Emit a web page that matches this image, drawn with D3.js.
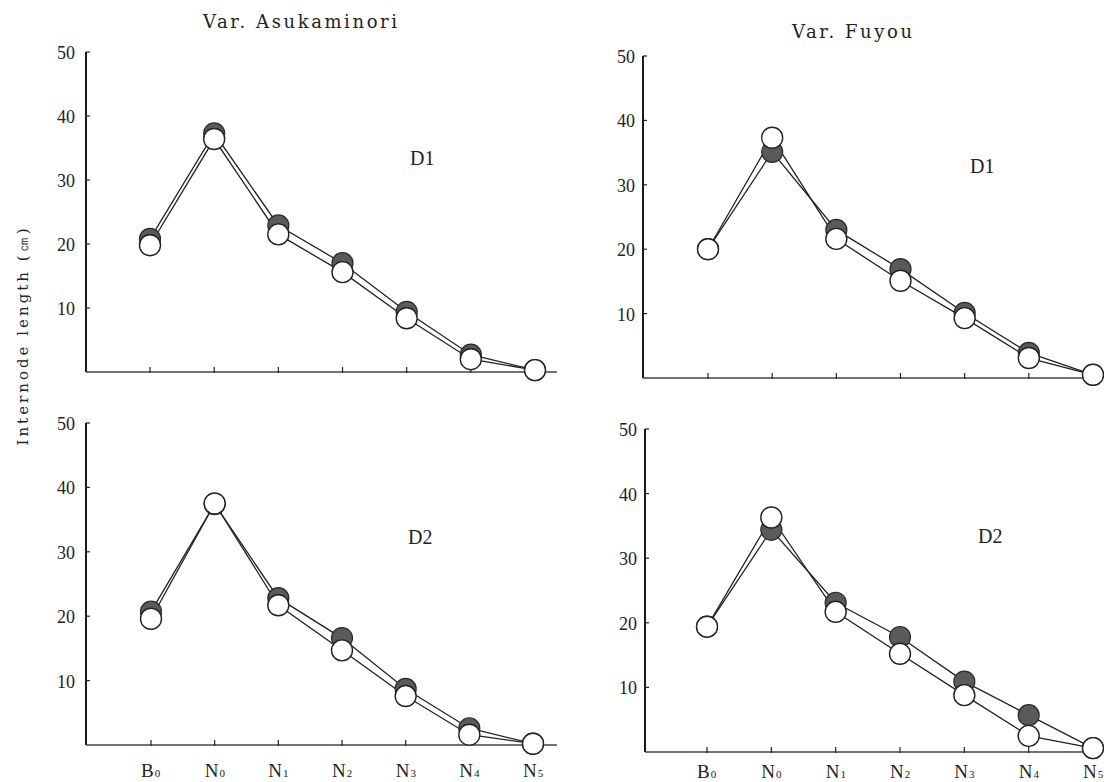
<!DOCTYPE html>
<html>
<head>
<meta charset="utf-8">
<script src="https://cdn.jsdelivr.net/npm/d3@7"></script>
<style>
  body { margin: 0; background: #fff; }
  text { font-family: "Liberation Serif", "DejaVu Serif", serif; fill: #222; }
  .wide { font-family: "DejaVu Serif", serif; }
</style>
</head>
<body>
<div class="chart"></div>
<script>
var width = 1104,
    height = 782;

// internodes along the stem
var nodes = ["B0", "N0", "N1", "N2", "N3", "N4", "N5"];
var y_ticks = [10, 20, 30, 40, 50];

// filled circles (dark) and open circles, per panel
var asuka_d1_filled = [20.8, 37.3, 22.9, 17.0, 9.4, 2.7, 0.3];
var asuka_d1_open   = [19.8, 36.4, 21.5, 15.6, 8.4, 2.0, 0.3];
var fuyou_d1_filled = [20.0, 35.1, 23.0, 16.9, 10.1, 3.9, 0.5];
var fuyou_d1_open   = [20.0, 37.3, 21.6, 15.1, 9.3, 3.1, 0.5];
var asuka_d2_filled = [20.7, 37.4, 22.8, 16.6, 8.7, 2.6, 0.2];
var asuka_d2_open   = [19.6, 37.5, 21.7, 14.7, 7.6, 1.6, 0.2];
var fuyou_d2_filled = [19.4, 34.4, 23.1, 17.8, 10.9, 5.7, 0.6];
var fuyou_d2_open   = [19.4, 36.3, 21.7, 15.2, 8.8, 2.5, 0.6];

var panels = [
    {label: "D1", filled: asuka_d1_filled, open: asuka_d1_open, axis_x: 86, x_first: 150, x_last: 535, y_top: 52, y_base: 372, x_end: 557, tick_gap: 11, lab_x: 410, lab_y: 165, xlab_dy: 32, show_x: false},
    {label: "D1", filled: fuyou_d1_filled, open: fuyou_d1_open, axis_x: 643, x_first: 708, x_last: 1093, y_top: 56, y_base: 378, x_end: 1100, tick_gap: 8, lab_x: 970, lab_y: 173, xlab_dy: 32, show_x: false},
    {label: "D2", filled: asuka_d2_filled, open: asuka_d2_open, axis_x: 86, x_first: 151, x_last: 533, y_top: 423, y_base: 745, x_end: 557, tick_gap: 11, lab_x: 408, lab_y: 544, xlab_dy: 32, show_x: true},
    {label: "D2", filled: fuyou_d2_filled, open: fuyou_d2_open, axis_x: 645, x_first: 707, x_last: 1093, y_top: 429, y_base: 752, x_end: 1100, tick_gap: 8, lab_x: 978, lab_y: 543, xlab_dy: 26, show_x: true}
];

var svg = d3.select(".chart")
    .append("svg")
    .attr("width", width)
    .attr("height", height);

panels.forEach(function(p) {
    var x = d3.scalePoint().domain(nodes).range([p.x_first, p.x_last]);
    var y = d3.scaleLinear().domain([0, 50]).range([p.y_base, p.y_top]);
    var g = svg.append("g");

    // axes lines
    g.append("line")
        .attr("x1", p.axis_x).attr("x2", p.axis_x)
        .attr("y1", y(50)).attr("y2", p.y_base)
        .attr("stroke", "#1a1a1a").attr("stroke-width", 2);
    g.append("line")
        .attr("x1", p.axis_x).attr("x2", p.x_end)
        .attr("y1", p.y_base).attr("y2", p.y_base)
        .attr("stroke", "#444").attr("stroke-width", 1.4);

    // y ticks
    g.selectAll(".ytick")
        .data(y_ticks)
        .enter().append("line")
        .attr("x1", p.axis_x).attr("x2", p.axis_x + 4)
        .attr("y1", function(d) { return y(d); })
        .attr("y2", function(d) { return y(d); })
        .attr("stroke", "#222").attr("stroke-width", 1.2);
    g.selectAll(".ylab")
        .data(y_ticks)
        .enter().append("text")
        .attr("x", p.axis_x - p.tick_gap)
        .attr("y", function(d) { return y(d) + 7; })
        .attr("text-anchor", "end")
        .attr("font-size", 18)
        .text(function(d) { return d; });

    // x ticks, pointing up into the plot
    g.selectAll(".xtick")
        .data(nodes.slice(0, 6))
        .enter().append("line")
        .attr("x1", function(d) { return x(d); })
        .attr("x2", function(d) { return x(d); })
        .attr("y1", p.y_base - 5).attr("y2", p.y_base + 1)
        .attr("stroke", "#222").attr("stroke-width", 1.2);

    if (p.show_x) {
        var xl = g.selectAll(".xlab")
            .data(nodes)
            .enter().append("text")
            .attr("x", function(d) { return x(d) - 10; })
            .attr("y", p.y_base + p.xlab_dy)
            .attr("font-size", 19);
        xl.append("tspan").text(function(d) { return d[0]; });
        xl.append("tspan")
            .attr("font-size", 11)
            .attr("dx", 1)
            .text(function(d) { return d.slice(1); });
    }

    var line = d3.line()
        .x(function(d, i) { return x(nodes[i]); })
        .y(function(d) { return y(d); });

    g.append("path").datum(p.filled)
        .attr("d", line).attr("fill", "none")
        .attr("stroke", "#222").attr("stroke-width", 1.3);
    g.append("path").datum(p.open)
        .attr("d", line).attr("fill", "none")
        .attr("stroke", "#222").attr("stroke-width", 1.3);

    g.selectAll(".dot-filled")
        .data(p.filled)
        .enter().append("circle")
        .attr("cx", function(d, i) { return x(nodes[i]); })
        .attr("cy", function(d) { return y(d); })
        .attr("r", 10.5)
        .attr("fill", "#5a5a5a")
        .attr("stroke", "#2a2a2a").attr("stroke-width", 1.2);
    g.selectAll(".dot-open")
        .data(p.open)
        .enter().append("circle")
        .attr("cx", function(d, i) { return x(nodes[i]); })
        .attr("cy", function(d) { return y(d); })
        .attr("r", 10.5)
        .attr("fill", "#fff")
        .attr("stroke", "#222").attr("stroke-width", 1.4);

    g.append("text")
        .attr("x", p.lab_x).attr("y", p.lab_y)
        .attr("font-size", 20)
        .text(p.label);
});

svg.append("text")
    .attr("class", "wide")
    .attr("x", 203).attr("y", 28)
    .attr("font-size", 18)
    .attr("textLength", 194)
    .attr("lengthAdjust", "spacing")
    .text("Var. Asukaminori");

svg.append("text")
    .attr("class", "wide")
    .attr("x", 792).attr("y", 38)
    .attr("font-size", 18)
    .attr("textLength", 120)
    .attr("lengthAdjust", "spacing")
    .text("Var. Fuyou");

svg.append("text")
    .attr("class", "wide")
    .attr("transform", "translate(28,337) rotate(-90)")
    .attr("text-anchor", "middle")
    .attr("font-size", 15)
    .attr("textLength", 217)
    .attr("lengthAdjust", "spacing")
    .text("Internode length (㎝)");
</script>
</body>
</html>
